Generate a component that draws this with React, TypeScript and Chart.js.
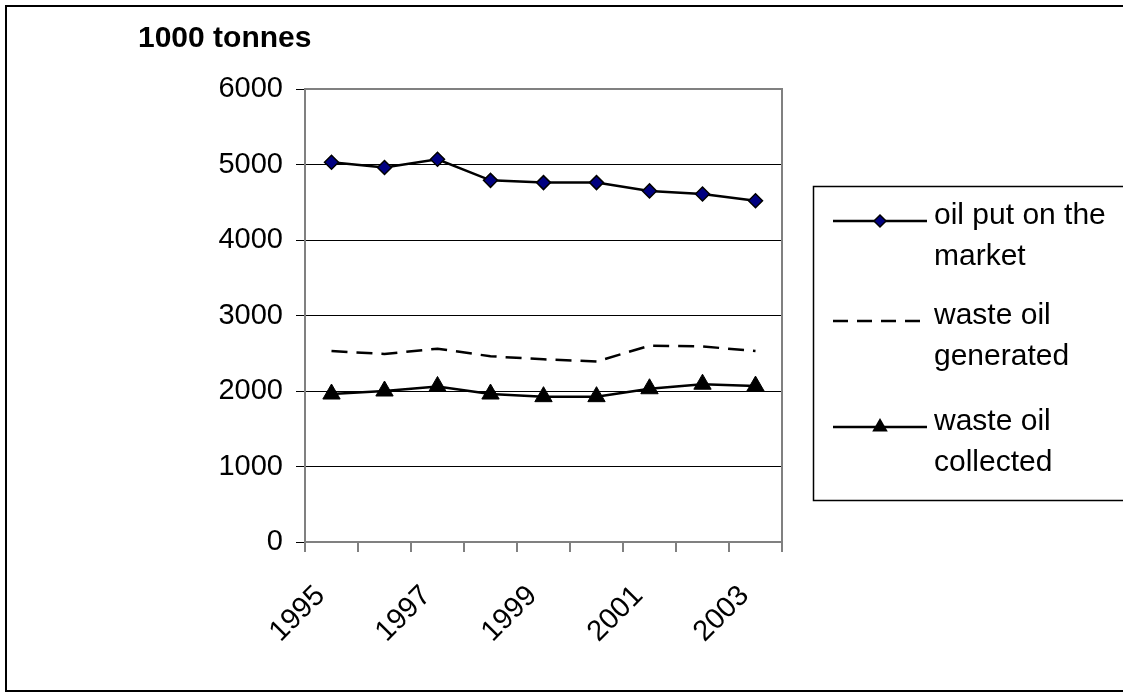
import React, { useEffect, useRef } from "react";
import { Chart, registerables } from "chart.js";

Chart.register(...registerables);

const years = ["1995", "1996", "1997", "1998", "1999", "2000", "2001", "2002", "2003"];
const oilMarket = [5030, 4960, 5070, 4790, 4760, 4760, 4650, 4610, 4520];
const wasteGenerated = [2530, 2490, 2560, 2460, 2420, 2390, 2600, 2590, 2530];
const wasteCollected = [1960, 2000, 2060, 1960, 1925, 1925, 2030, 2090, 2065];
const yTicks = [0, 1000, 2000, 3000, 4000, 5000, 6000];
const titleText = "1000 tonnes";
const legendLines = [
  ["oil put on the", "market"],
  ["waste oil", "generated"],
  ["waste oil", "collected"],
];

const FONT = "'Liberation Sans', Arial, sans-serif";

const framePlugin = {
  id: "frame",
  beforeDatasetsDraw(chart: any) {
    const { ctx, chartArea } = chart;
    ctx.save();
    ctx.strokeStyle = "#808080";
    ctx.lineWidth = 2;
    ctx.beginPath();
    ctx.moveTo(chartArea.left, chartArea.top);
    ctx.lineTo(chartArea.right, chartArea.top);
    ctx.lineTo(chartArea.right, chartArea.bottom);
    ctx.stroke();
    ctx.restore();
  },
  afterDraw(chart: any) {
    const { ctx } = chart;
    ctx.save();
    // outer border
    ctx.strokeStyle = "#000";
    ctx.lineWidth = 2;
    ctx.strokeRect(6, 6, 1130, 685);
    // title
    ctx.fillStyle = "#000";
    ctx.font = `bold 30px ${FONT}`;
    ctx.textAlign = "left";
    ctx.textBaseline = "alphabetic";
    ctx.fillText(titleText, 138, 47);
    // legend box
    ctx.lineWidth = 1.5;
    ctx.strokeRect(813.5, 186.5, 400, 314);
    const itemY = [221, 321, 427];
    const lineGap = 41;
    const datasets = chart.data.datasets;
    for (let i = 0; i < 3; i++) {
      const ds = datasets[i];
      const y = itemY[i];
      ctx.save();
      ctx.strokeStyle = "#000";
      ctx.lineWidth = 2.5;
      if (ds.borderDash && ds.borderDash.length) ctx.setLineDash([15, 9]);
      ctx.beginPath();
      ctx.moveTo(833, y);
      ctx.lineTo(927, y);
      ctx.stroke();
      ctx.restore();
      const cx = 880;
      if (ds.pointStyle === "rectRot") {
        const r = 6;
        ctx.beginPath();
        ctx.moveTo(cx, y - r);
        ctx.lineTo(cx + r, y);
        ctx.lineTo(cx, y + r);
        ctx.lineTo(cx - r, y);
        ctx.closePath();
        ctx.fillStyle = ds.pointBackgroundColor;
        ctx.fill();
        ctx.lineWidth = 1.5;
        ctx.strokeStyle = "#000";
        ctx.stroke();
      } else if (ds.pointStyle === "triangle") {
        const r = 9;
        ctx.beginPath();
        ctx.moveTo(cx, y - r);
        ctx.lineTo(cx + r * 0.866, y + r * 0.5);
        ctx.lineTo(cx - r * 0.866, y + r * 0.5);
        ctx.closePath();
        ctx.fillStyle = "#000";
        ctx.fill();
      }
      ctx.fillStyle = "#000";
      ctx.font = `30px ${FONT}`;
      ctx.textAlign = "left";
      ctx.textBaseline = "middle";
      legendLines[i].forEach((t, j) => {
        ctx.fillText(t, 934, y - 5 + j * lineGap);
      });
    }
    ctx.restore();
  },
};

export default function App() {
  const ref = useRef<HTMLCanvasElement | null>(null);
  useEffect(() => {
    if (!ref.current) return;
    const chart = new Chart(ref.current, {
      type: "line",
      data: {
        labels: years,
        datasets: [
          {
            label: "oil put on the market",
            data: oilMarket,
            borderColor: "#000",
            borderWidth: 2.5,
            pointStyle: "rectRot",
            pointRadius: 7,
            pointBackgroundColor: "#000080",
            pointBorderColor: "#000",
            pointBorderWidth: 1.5,
            tension: 0,
          },
          {
            label: "waste oil generated",
            data: wasteGenerated,
            borderColor: "#000",
            borderWidth: 2.5,
            borderDash: [16, 9],
            pointRadius: 0,
            tension: 0,
          },
          {
            label: "waste oil collected",
            data: wasteCollected,
            borderColor: "#000",
            borderWidth: 2.5,
            pointStyle: "triangle",
            pointRadius: 10,
            pointBackgroundColor: "#000",
            pointBorderColor: "#000",
            pointBorderWidth: 1,
            tension: 0,
          },
        ],
      },
      options: {
        responsive: false,
        animation: false,
        devicePixelRatio: 1,
        layout: { padding: { left: 200, top: 89, right: 341, bottom: 41 } },
        plugins: {
          legend: { display: false },
          title: { display: false },
          tooltip: { enabled: false },
        },
        scales: {
          x: {
            type: "category",
            offset: true,
            afterFit: (s: any) => {
              s.height = 110;
            },
            grid: {
              offset: true,
              drawOnChartArea: false,
              drawTicks: true,
              tickLength: 10,
              color: "#808080",
              lineWidth: 2,
            },
            border: { display: true, color: "#808080", width: 2 },
            ticks: {
              autoSkip: false,
              maxRotation: 45,
              minRotation: 45,
              padding: 27,
              labelOffset: -11,
              color: "#000",
              font: { family: FONT, size: 29 },
              callback: (_v: any, i: number) => (i % 2 === 0 ? years[i] : ""),
            },
          },
          y: {
            min: yTicks[0],
            max: yTicks[yTicks.length - 1],
            afterFit: (s: any) => {
              s.width = 105;
            },
            afterBuildTicks: (s: any) => {
              s.ticks = yTicks.map((v) => ({ value: v }));
            },
            grid: {
              color: "#000",
              lineWidth: 1,
              drawTicks: true,
              tickLength: 9,
              tickColor: "#000",
            },
            border: { display: true, color: "#808080", width: 2 },
            ticks: {
              padding: 13,
              color: "#000",
              font: { family: FONT, size: 29 },
              callback: (v: any) => String(v),
            },
          },
        },
      },
      plugins: [framePlugin],
    });
    return () => chart.destroy();
  }, []);
  return (
    <div style={{ position: "absolute", left: 0, top: 0, width: 1123, height: 693, background: "#fff" }}>
      <canvas ref={ref} width={1123} height={693} style={{ display: "block" }} />
    </div>
  );
}
